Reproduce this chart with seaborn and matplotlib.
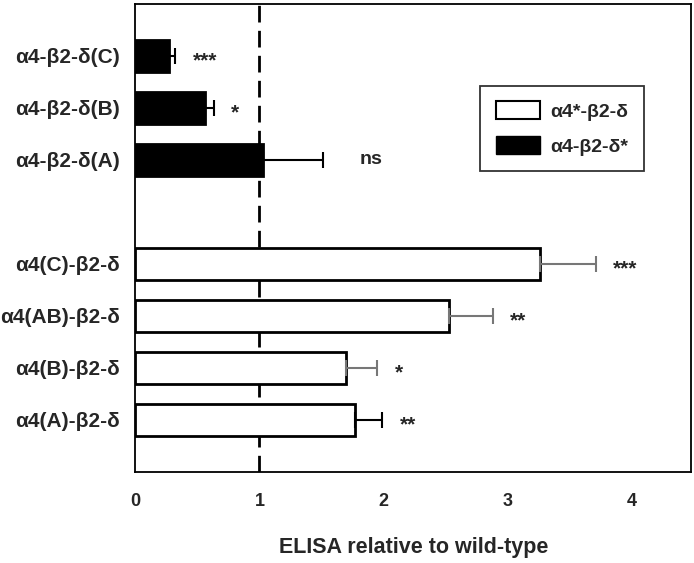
import numpy as np
import pandas as pd
import seaborn as sns
import matplotlib.pyplot as plt
from matplotlib.patches import Patch

labels = ['α4-β2-δ(C)', 'α4-β2-δ(B)', 'α4-β2-δ(A)',
          'α4(C)-β2-δ', 'α4(AB)-β2-δ', 'α4(B)-β2-δ', 'α4(A)-β2-δ']
values = [0.27, 0.56, 1.03, 3.26, 2.53, 1.70, 1.77]
errors = [0.05, 0.07, 0.48, 0.45, 0.35, 0.25, 0.22]
groups = ['α4-β2-δ*'] * 3 + ['α4*-β2-δ'] * 4
stars = ['***', '*', 'ns', '***', '**', '*', '**']
err_colors = ['black', 'black', 'black', '#777777', '#777777', '#777777', 'black']

# empty slot between the two groups
order = labels[:3] + [' '] + labels[3:]

df = pd.DataFrame({'label': labels, 'value': values, 'group': groups})

sns.set_style('white')
plt.rcParams['font.family'] = ['Liberation Sans', 'DejaVu Sans']
plt.rcParams['font.weight'] = 'bold'

fig, ax = plt.subplots(figsize=(6.94, 5.63), dpi=100)
fig.subplots_adjust(left=0.195, right=0.996, top=0.993, bottom=0.162)

sns.barplot(data=df, x='value', y='label', hue='group', order=order,
            palette={'α4*-β2-δ': 'white', 'α4-β2-δ*': 'black'},
            dodge=False, width=0.62, edgecolor='black', linewidth=2,
            legend=False, ax=ax)

# one-sided error bars + significance marks
for lab, v, e, s, c in zip(labels, values, errors, stars, err_colors):
    y = order.index(lab)
    ax.errorbar(v, y, xerr=[[0], [e]], fmt='none', ecolor=c, elinewidth=1.5,
                capsize=6, capthick=1.5)
    if s == 'ns':
        ax.text(v + e + 0.3, y, s, ha='left', va='center',
                fontsize=14, fontweight='bold')
    else:
        ax.text(v + e + 0.14, y + 0.1, s, ha='left', va='center',
                fontsize=15, fontweight='bold')

ax.axvline(1, color='black', lw=2, ls=(0, (6, 3)), zorder=0.5)

ax.set_xlim(0, 4.48)
ax.set_ylim(8, -1)
ax.set_xticks([0, 1, 2, 3, 4])
ax.set_yticks(range(len(order)))
ax.set_yticklabels(order)
ax.tick_params(axis='y', length=0, labelsize=15, pad=11)
ax.tick_params(axis='x', length=5, width=1.2, direction='out', labelsize=13, pad=10)
ax.set_xlabel('ELISA relative to wild-type', fontsize=15.5, fontweight='bold', labelpad=20)
ax.set_ylabel('')

for sp in ax.spines.values():
    sp.set_visible(True)
    sp.set_color('black')
    sp.set_linewidth(1.3)

handles = [Patch(facecolor='white', edgecolor='black', linewidth=1.5),
           Patch(facecolor='black', edgecolor='black')]
leg = ax.legend(handles, ['α4*-β2-δ', 'α4-β2-δ*'], loc='upper left',
                bbox_to_anchor=(0.62, 0.825), borderaxespad=0, fontsize=14,
                frameon=True, fancybox=False, edgecolor='black',
                handlelength=2.3, handleheight=1.0, handletextpad=0.5,
                borderpad=0.8, labelspacing=0.8)
leg.get_frame().set_linewidth(1.3)

plt.savefig('out.png', dpi=100)
